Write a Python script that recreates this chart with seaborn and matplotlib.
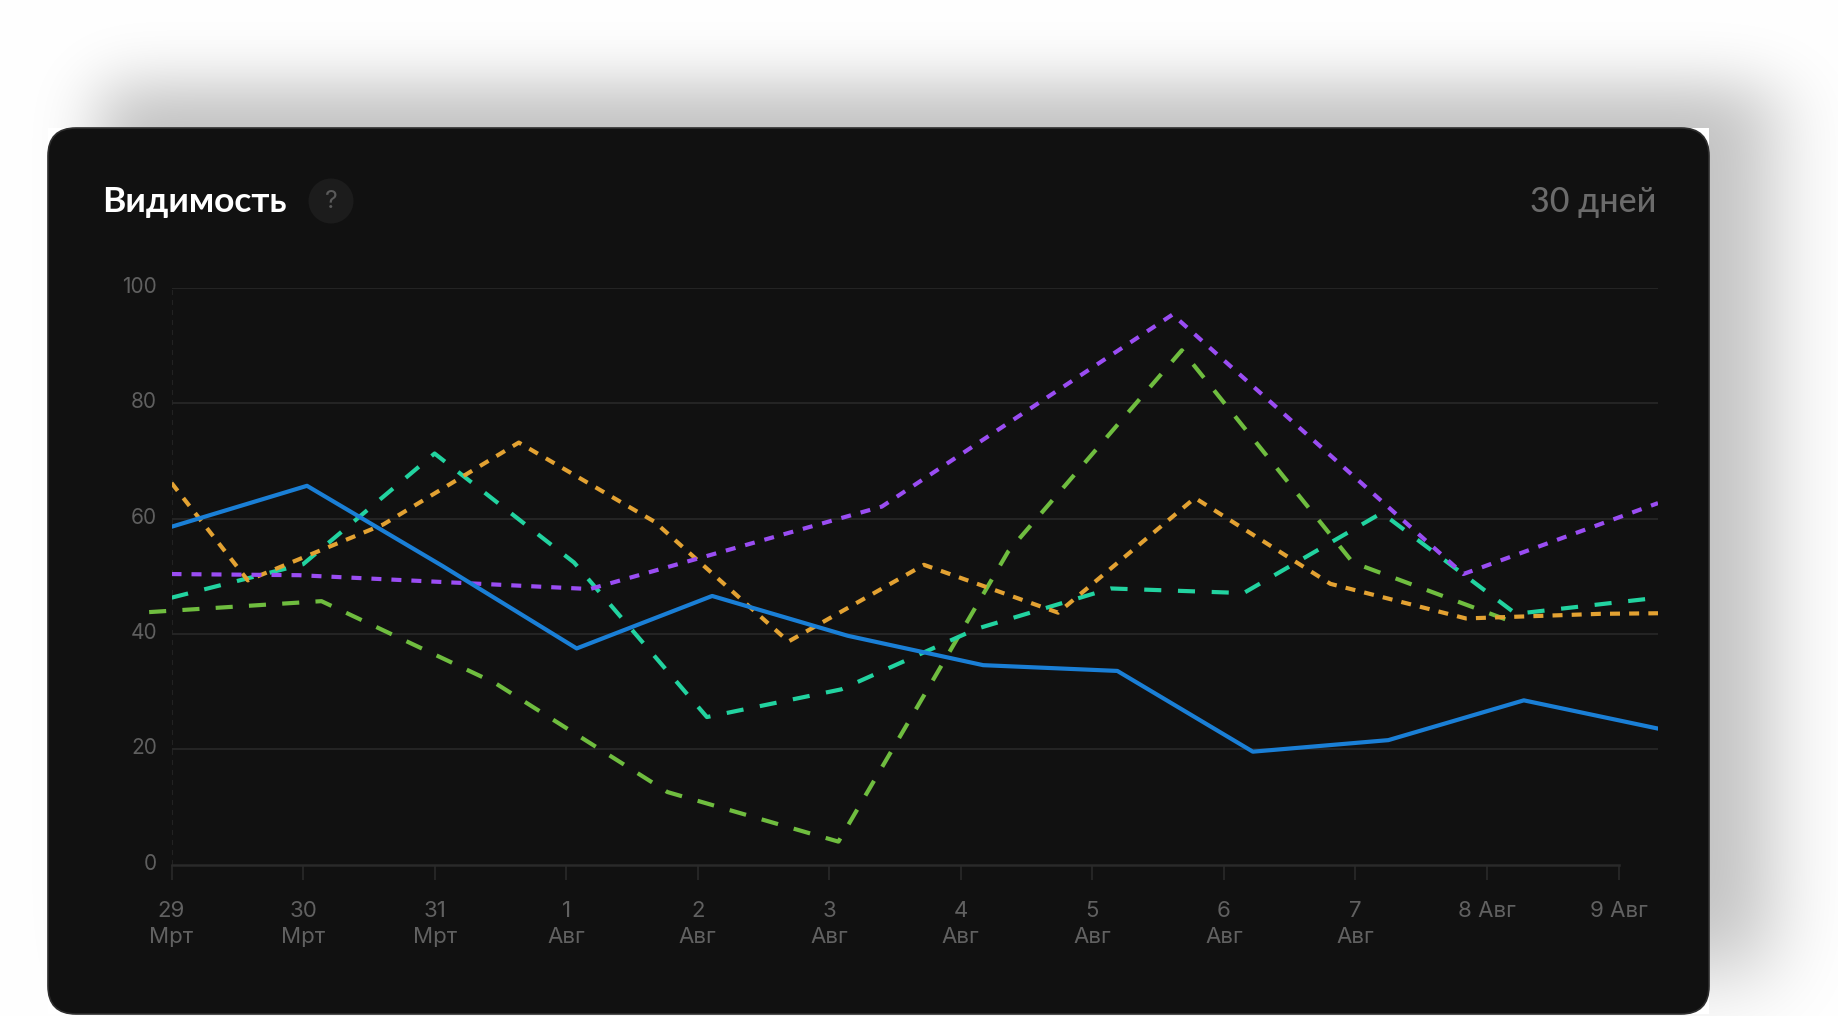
import math
import numpy as np
import matplotlib
matplotlib.use('Agg')
import matplotlib.pyplot as plt
import seaborn as sns
from matplotlib.patches import FancyBboxPatch, Rectangle, Circle
from matplotlib.transforms import ScaledTranslation

sns.set_theme(style='dark')
plt.rcParams['font.family'] = ['Inter', 'DejaVu Sans']

# x values are in day-tick units (0 = 29 Мрт ... 11 = 9 Авг)
dates = ['29\nМрт', '30\nМрт', '31\nМрт', '1\nАвг', '2\nАвг', '3\nАвг',
         '4\nАвг', '5\nАвг', '6\nАвг', '7\nАвг', '8 Авг', '9 Авг']
y_ticks = [0, 20, 40, 60, 80, 100]

blue_x = [0, 1.03, 2.06, 3.08, 4.11, 5.14, 6.17, 7.19, 8.22, 9.25, 10.28, 11.3]
blue_y = [58.6, 65.7, 51.8, 37.5, 46.6, 39.7, 34.6, 33.6, 19.6, 21.6, 28.5, 23.6]

teal_x = [0, 1.0, 2.0, 3.06, 4.07, 5.09, 6.12, 7.14, 8.15, 9.2, 10.22, 11.3]
teal_y = [46.3, 52.1, 71.3, 52.4, 25.6, 30.4, 40.9, 47.9, 47.1, 61.0, 43.5, 46.3]

orange_x = [0, 0.58, 1.61, 2.64, 3.67, 4.69, 5.72, 6.74, 7.78, 8.81, 9.84, 10.86, 11.3]
orange_y = [66.2, 49.3, 59.0, 73.2, 59.5, 38.7, 52.0, 43.7, 63.6, 48.7, 42.7, 43.5, 43.6]

purple_x = [0, 0.97, 3.18, 5.40, 7.61, 9.82, 11.3]
purple_y = [50.4, 50.2, 47.8, 62.1, 95.4, 50.4, 62.7]

green_x = [-0.17, 1.14, 2.46, 3.77, 5.07, 6.36, 7.68, 8.98, 10.17]
green_y = [43.8, 45.7, 31.5, 12.6, 4.0, 54.3, 89.2, 52.4, 42.3]

W, H = 1838, 1016
fig = plt.figure(figsize=(W / 100, H / 100), dpi=100)
fig.patch.set_facecolor('white')

# background layer in pixel coords: shadow + card
bg = fig.add_axes([0, 0, 1, 1])
bg.set_xlim(0, W)
bg.set_ylim(H, 0)
bg.axis('off')

verf = np.vectorize(math.erf)
xs = np.arange(W) + 0.5
ys = np.arange(H) + 0.5
sx = 0.5 * (verf((xs - 100) / 45) - verf((xs - 1772) / 55))
sy = 0.5 * (verf((ys - 85) / 42) - verf((ys - 970) / 60))
dark = 0.24 * np.outer(sy, sx)
img = np.dstack([1 - dark] * 3)
bg.imshow(img, extent=(0, W, H, 0), aspect='auto', interpolation='bilinear', zorder=0)

bg.add_patch(Rectangle((48, 128), 1661, 886, fc='white', ec='none', zorder=1))
bg.add_patch(FancyBboxPatch((48, 128), 1661, 886, boxstyle='round,pad=0,rounding_size=28',
                            fc='#111111', ec='#2e2e2e', lw=1.2, zorder=2))

bg.text(102, 212, 'Видимость', fontsize=25.5, fontweight='bold', color='white',
        va='baseline', ha='left', family=['Lato', 'DejaVu Sans'], zorder=3)
bg.add_patch(Circle((331, 201), 22.5, fc='#1c1c1c', ec='none', zorder=3))
bg.text(331, 202, '?', fontsize=18, color='#5a5a5a', ha='center', va='center', zorder=4)
bg.text(1656, 212, '30 дней', fontsize=24.5, fontweight='medium', color='#6b6b6b',
        va='baseline', ha='right', family=['Lato', 'DejaVu Sans'], zorder=3)

# chart
ax = fig.add_axes([171.5 / W, (H - 864.7) / H, (1658 - 171.5) / W, (864.7 - 288) / H])
ax.patch.set_alpha(0)
ax.set_xlim(0, 11.3)
ax.set_ylim(0, 100)

for v in y_ticks[1:]:
    ax.axhline(v, color='#242424', lw=1.5, zorder=1)
ax.axvline(0, color='#262626', lw=1.2, ls=(0, (3, 3)), zorder=1)

lw = 3.0
sns.lineplot(x=green_x, y=green_y, ax=ax, color='#6fbd3f', linewidth=lw,
             linestyle=(0, (4.1, 3.9)), estimator=None, sort=False, clip_on=False, zorder=3)
sns.lineplot(x=teal_x, y=teal_y, ax=ax, color='#22d3a0', linewidth=lw,
             linestyle=(0, (4.1, 4.0)), estimator=None, sort=False, zorder=4)
sns.lineplot(x=orange_x, y=orange_y, ax=ax, color='#e3a232', linewidth=lw,
             linestyle=(0, (2.4, 2.2)), estimator=None, sort=False, zorder=5)
sns.lineplot(x=purple_x, y=purple_y, ax=ax, color='#9a4df3', linewidth=lw,
             linestyle=(0, (2.4, 2.4)), estimator=None, sort=False, zorder=6)
sns.lineplot(x=blue_x, y=blue_y, ax=ax, color='#1a7fd6', linewidth=lw,
             estimator=None, sort=False, zorder=7)

for s in ['top', 'right', 'left']:
    ax.spines[s].set_visible(False)
ax.spines['bottom'].set_visible(True)
ax.spines['bottom'].set_color('#2a2a2a')
ax.spines['bottom'].set_linewidth(1.8)
ax.spines['bottom'].set_bounds(0, 11)

ax.set_xticks(range(len(dates)))
ax.set_xticklabels(dates)
ax.set_yticks(y_ticks)
ax.set_yticklabels([str(v) for v in y_ticks])
ax.tick_params(axis='x', bottom=True, length=11, width=1.2, color='#2a2a2a',
               pad=15, labelsize=16, labelcolor='#616161', direction='out')
ax.tick_params(axis='y', left=False, length=0, pad=10.5, labelsize=15, labelcolor='#5f5f5f')
for lbl in ax.get_xticklabels():
    lbl.set_linespacing(1.4)
for lbl in ax.get_yticklabels():
    lbl.set_transform(lbl.get_transform() + ScaledTranslation(0, 3 / 100, fig.dpi_scale_trans))
ax.set_xlabel('')
ax.set_ylabel('')
ax.grid(False)

fig.savefig('out.png', dpi=100)
